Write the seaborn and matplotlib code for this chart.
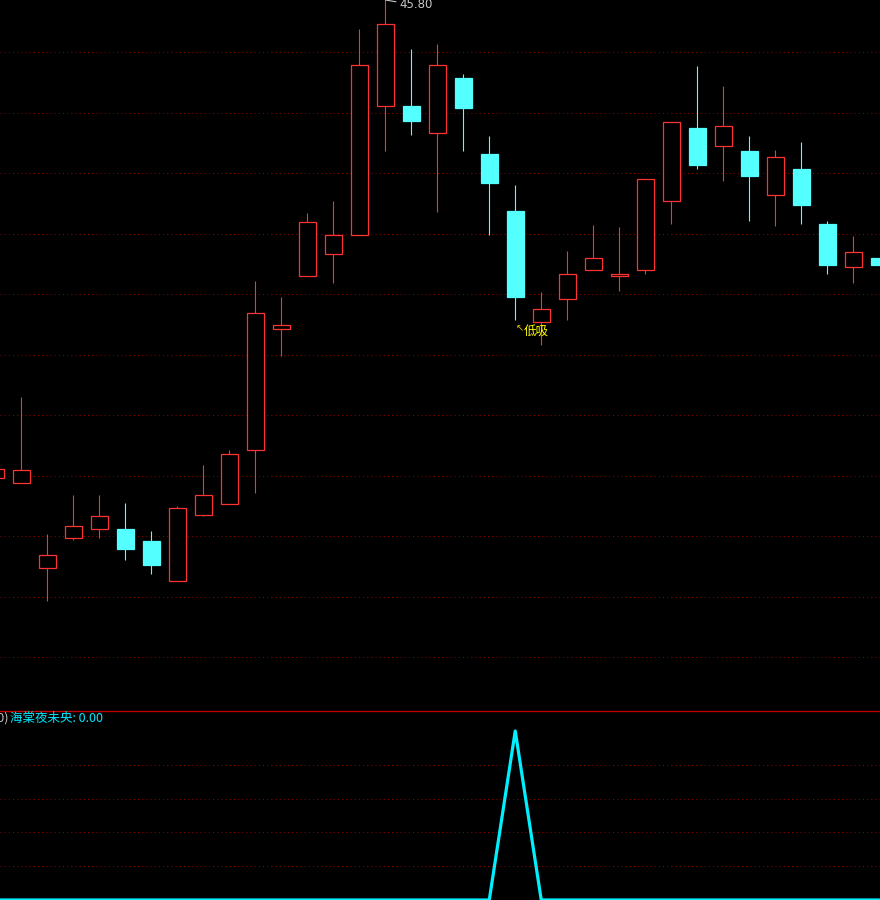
import numpy as np
import pandas as pd
import matplotlib
matplotlib.use("Agg")
import matplotlib.pyplot as plt
import seaborn as sns

# 日K线数据: 开盘 / 最高 / 最低 / 收盘
opens = [36.24, 36.13, 34.43, 35.03, 35.21, 35.22, 34.98, 34.17, 35.51, 35.73,
         36.79, 39.23, 40.27, 40.73, 41.11, 43.67, 43.68, 43.13, 44.24, 42.72,
         41.58, 39.35, 39.81, 40.41, 40.27, 40.41, 41.79, 43.24, 42.89, 42.78,
         41.91, 42.42, 41.32, 40.47, 40.64]
highs = [36.42, 37.86, 35.12, 35.90, 35.90, 35.74, 35.18, 35.68, 36.50, 36.80,
         40.18, 39.86, 41.54, 41.78, 45.22, 45.80, 44.82, 44.92, 44.32, 43.08,
         42.10, 39.96, 40.78, 41.30, 41.26, 42.23, 43.35, 44.48, 44.08, 43.08,
         42.80, 42.96, 41.38, 41.08, 40.64]
lows = [36.24, 36.13, 33.77, 34.99, 35.05, 34.60, 34.31, 34.17, 35.47, 35.73,
        35.93, 38.67, 40.27, 40.15, 41.09, 42.79, 43.09, 41.57, 42.79, 41.11,
        39.39, 38.91, 39.41, 40.41, 39.97, 40.33, 41.33, 42.43, 42.19, 41.39,
        41.29, 41.31, 40.31, 40.13, 40.49]
closes = [36.42, 36.41, 34.69, 35.27, 35.47, 34.81, 34.49, 35.63, 35.91, 36.73,
          39.53, 39.29, 41.35, 41.09, 44.51, 45.31, 43.39, 44.49, 43.65, 42.13,
          39.87, 39.61, 40.31, 40.63, 40.31, 42.23, 43.35, 42.51, 43.27, 42.29,
          42.65, 41.71, 40.49, 40.75, 40.49]

# 指标: 海棠夜未央 (低吸信号)
signal = [0, 0, 0, 0, 0, 0, 0, 0, 0, 0,
          0, 0, 0, 0, 0, 0, 0, 0, 0, 0,
          1, 0, 0, 0, 0, 0, 0, 0, 0, 0,
          0, 0, 0, 0, 0]
indicator_name = "海棠夜未央"
signal_label = "低吸"

df = pd.DataFrame({"open": opens, "high": highs, "low": lows,
                   "close": closes, "signal": signal})
df["idx"] = np.arange(len(df))
df["up"] = df["close"] >= df["open"]

RED = "#ff3232"
CYAN = "#54ffff"
GRID = "#8b0000"

sns.set_theme(style="dark", rc={
    "axes.facecolor": "black",
    "figure.facecolor": "black",
    "axes.grid": False,
})
plt.rcParams["font.family"] = ["Noto Sans CJK SC", "DejaVu Sans"]

fig = plt.figure(figsize=(8.8, 9), dpi=100, facecolor="black")
ax = fig.add_axes([0, 190 / 900, 1, 710 / 900])
ax2 = fig.add_axes([0, 0, 1, 189 / 900])

x_lo, x_hi = 0.181, 34.03
ymax = max(highs)
ymin = ymax - 0.02 * 710

# 影线
for up, col in [(True, RED), (False, CYAN)]:
    d = df[df["up"] == up]
    ax.vlines(d["idx"], d["low"], d["high"], color=col, lw=0.8, zorder=2)

# 实体: 阳线空心红框, 阴线实心青色
body_bottom = df[["open", "close"]].min(axis=1)
body_height = (df["close"] - df["open"]).abs()
face = np.where(df["up"], "black", CYAN)
edge = np.where(df["up"], RED, CYAN)
ax.bar(df["idx"], body_height, bottom=body_bottom, width=0.66,
       color=face, edgecolor=edge, linewidth=0.9, zorder=3)

# 最高价标注
i_max = int(df["high"].idxmax())
ax.annotate(f"{ymax:.2f}", xy=(i_max, ymax), xytext=(14, -5),
            textcoords="offset pixels", ha="left", va="center",
            color="#c8c8c8", fontsize=8.5, family=["DejaVu Sans"],
            arrowprops=dict(arrowstyle="-", color="#c8c8c8", lw=0.8,
                            shrinkA=0, shrinkB=0))

# 低吸标注 (箭头指向信号日最低价)
i_sig = int(df["signal"].idxmax())
ax.annotate("↖", xy=(i_sig, lows[i_sig]), xytext=(0, -8),
            textcoords="offset pixels", ha="left", va="center",
            color="#e8c000", fontsize=7, family=["DejaVu Sans"])
ax.annotate(signal_label, xy=(i_sig, lows[i_sig]), xytext=(8, -11),
            textcoords="offset pixels", ha="left", va="center",
            color="#ffff00", fontsize=9)

grid_px = 52 + 60.5 * np.arange(11)
ax.set_yticks(ymax - grid_px * (ymax - ymin) / 710)
ax.grid(axis="y", color=GRID, linestyle=(0, (1, 3)), linewidth=0.75)
ax.set_axisbelow(True)
ax.set_xlim(x_lo, x_hi)
ax.set_ylim(ymin, ymax)
ax.set_xticks([])
ax.tick_params(left=False, labelleft=False, bottom=False, labelbottom=False)
for s in ax.spines.values():
    s.set_visible(False)

# 副图指标
sns.lineplot(data=df, x="idx", y="signal", ax=ax2, color="#00f0ff",
             linewidth=2.3, zorder=3)
ax2.set_xlim(x_lo, x_hi)
ax2.set_ylim(0, 189 / 169)
ax2.set_yticks([0.2, 0.4, 0.6, 0.8])
ax2.set_xticks([])
ax2.grid(axis="y", color=GRID, linestyle=(0, (1, 3)), linewidth=0.75)
ax2.set_axisbelow(True)
ax2.set_xlabel("")
ax2.set_ylabel("")
ax2.tick_params(left=False, labelleft=False, bottom=False, labelbottom=False)
for name, s in ax2.spines.items():
    s.set_visible(name == "top")
ax2.spines["top"].set_color("#c00000")
ax2.spines["top"].set_linewidth(1.0)

fig.text(9 / 880, 1 - 718 / 900, "(0)", ha="right", va="center",
         color="#c0c0c0", fontsize=9)
fig.text(10 / 880, 1 - 718 / 900,
         f"{indicator_name}: {signal[-1]:.2f}", ha="left", va="center",
         color="#00e8ff", fontsize=9)

fig.savefig("out.png", dpi=100, facecolor="black")
